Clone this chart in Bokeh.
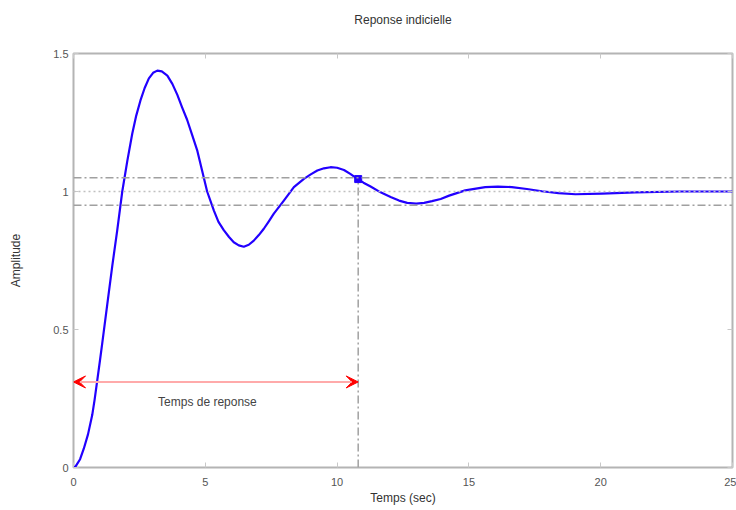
from bokeh.plotting import figure
from bokeh.models import (Span, Arrow, VeeHead, Label, LinearAxis, FixedTicker,
                          NumeralTickFormatter, CustomJSTickFormatter, Range1d)
from bokeh.embed import file_html
from bokeh.resources import INLINE

# --- data ---
t = [0.0, 0.08, 0.25, 0.39, 0.55, 0.71, 0.8, 0.9, 1.0, 1.09, 1.28, 1.47, 1.66,
     1.85, 2.04, 2.23, 2.38, 2.54, 2.7, 2.86, 3.02, 3.18, 3.35, 3.56, 3.75,
     3.94, 4.12, 4.31, 4.5, 4.69, 4.88, 5.07, 5.33, 5.5, 5.7, 5.9, 6.08, 6.27,
     6.46, 6.65, 6.84, 7.03, 7.22, 7.41, 7.6, 7.98, 8.36, 8.74, 9.0, 9.25, 9.5,
     9.75, 10.0, 10.26, 10.5, 10.77, 11.0, 11.27, 11.65, 12.03, 12.35, 12.66,
     13.0, 13.3, 13.6, 13.93, 14.25, 14.86, 15.62, 16.1, 16.63, 17.2, 17.77,
     18.4, 19.04, 20.05, 21.3, 23.0, 25.0]
amp = [0.0, 0.004, 0.03, 0.068, 0.12, 0.19, 0.245, 0.315, 0.385, 0.45, 0.59,
       0.73, 0.86, 1.0, 1.11, 1.21, 1.275, 1.33, 1.375, 1.41, 1.43, 1.438,
       1.435, 1.42, 1.39, 1.35, 1.305, 1.26, 1.205, 1.15, 1.075, 1.0, 0.93,
       0.89, 0.86, 0.835, 0.816, 0.805, 0.80, 0.807, 0.822, 0.842, 0.865,
       0.892, 0.92, 0.967, 1.016, 1.046, 1.062, 1.076, 1.084, 1.088, 1.086,
       1.078, 1.064, 1.046, 1.032, 1.018, 0.997, 0.98, 0.967, 0.959, 0.956,
       0.959, 0.965, 0.973, 0.985, 1.004, 1.016, 1.018, 1.016, 1.009, 1.001,
       0.994, 0.99, 0.992, 0.997, 1.0, 1.0]

final_value = 1.0
band_hi = 1.05
band_lo = 0.95
t_settle = 10.8
arrow_y = 0.31
note_x = 5.08
note_y = 0.236
note_text = "Temps de reponse"
title_text = "Reponse indicielle"

x_ticks = [0, 5, 10, 15, 20, 25]
y_ticks = [0, 0.5, 1, 1.5]

p = figure(width=736, height=510, output_backend="svg", toolbar_location=None,
           x_range=Range1d(0, 25), y_range=Range1d(0, 1.5),
           min_border_left=73, min_border_right=4, min_border_top=53,
           min_border_bottom=43, background_fill_color="white",
           border_fill_color="white")

p.grid.visible = False
p.outline_line_color = "#b4b4b4"
p.outline_line_width = 2

def style_axis(ax):
    ax.axis_line_color = None
    ax.major_tick_in = 5
    ax.major_tick_out = 0
    ax.minor_tick_line_color = None
    ax.major_tick_line_color = "#c8c8c8"
    ax.major_tick_line_width = 1
    ax.major_label_text_font = "Liberation Sans"
    ax.major_label_text_font_size = "11px"
    ax.major_label_text_color = "#555555"
    ax.axis_label_text_font = "Liberation Sans"
    ax.axis_label_text_font_size = "12px"
    ax.axis_label_text_font_style = "normal"
    ax.axis_label_text_color = "#333333"

xa = p.xaxis[0]
xa.ticker = FixedTicker(ticks=x_ticks)
style_axis(xa)
xa.axis_label = "Temps (sec)"
xa.major_label_standoff = 10
xa.axis_label_standoff = 2

ya = p.yaxis[0]
ya.ticker = FixedTicker(ticks=y_ticks)
ya.formatter = NumeralTickFormatter(format="0.[0]")
style_axis(ya)
ya.axis_label = "Amplitude"
ya.major_label_standoff = 5
ya.axis_label_standoff = 27

blank = CustomJSTickFormatter(code="return ''")
# top axis carries the chart title as its label
top = LinearAxis(ticker=FixedTicker(ticks=x_ticks), formatter=blank,
                 axis_label=title_text)
style_axis(top)
top.major_label_standoff = 0
top.axis_label_standoff = 27
p.add_layout(top, "above")
right = LinearAxis(ticker=FixedTicker(ticks=y_ticks), formatter=blank)
style_axis(right)
right.major_label_standoff = 0
p.add_layout(right, "right")

# settling band and final value
for loc, dash, col in [(band_hi, "8 3 2 3", "#a0a0a0"), (band_lo, "8 3 2 3", "#a0a0a0"),
                       (final_value, "2 3", "#c0c0c0")]:
    p.add_layout(Span(location=loc, dimension="width", line_color=col,
                      line_dash=dash, line_width=1.5))

# vertical settling time line
p.segment(x0=[t_settle], y0=[0], x1=[t_settle], y1=[band_hi],
          line_color="#a0a0a0", line_dash="8 3 2 3", line_width=1.5)

# response curve
p.line(t, amp, line_color="#2200ff", line_width=2.2, line_join="round")
p.scatter([t_settle], [band_hi - 0.005], marker="square", size=7,
          fill_color="#2200ff", line_color="#2200ff")

# double arrow
p.add_layout(Arrow(x_start=0, y_start=arrow_y, x_end=t_settle, y_end=arrow_y,
                   line_color="#ffaaaa", line_width=2,
                   start=VeeHead(size=12, fill_color="red", line_color="red"),
                   end=VeeHead(size=12, fill_color="red", line_color="red")))
p.add_layout(Label(x=note_x, y=note_y, text=note_text, text_align="center",
                   text_baseline="middle", text_font="Liberation Sans",
                   text_font_size="12px", text_color="#444444"))

open("out.html", "w").write(file_html(p, INLINE))
